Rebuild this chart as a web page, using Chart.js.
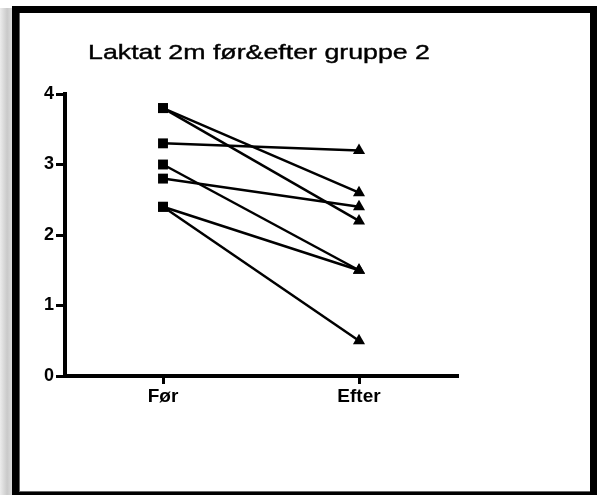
<!DOCTYPE html>
<html>
<head>
<meta charset="utf-8">
<script src="https://cdn.jsdelivr.net/npm/chart.js@4/dist/chart.umd.min.js"></script>
<style>
    html, body { margin: 0; padding: 0; background: #fff; }
    body { width: 597px; height: 495px; position: relative; overflow: hidden; }
    #shade { position: absolute; left: 0; top: 8px; width: 12px; height: 487px;
        background: linear-gradient(to right, #ececec, #c9c9c9 60%, #dcdcdc); }
    #frame { position: absolute; left: 12px; top: 6px; width: 585px; height: 489px; box-sizing: border-box;
        border: 7px solid #000; border-bottom-width: 3px; box-shadow: inset 1px -1px 0 #666; }
    #chart { position: absolute; left: 0; top: 0; }
</style>
</head>
<body>
<div id="shade"></div>
<div id="frame"></div>
<canvas id="chart" width="597" height="495"></canvas>
<script>
const TITLE = 'Laktat 2m før&efter gruppe 2';
const timepoints = ['Før', 'Efter'];
// one subject per pair: [før, efter]
const forValues = [3.8, 3.8, 3.3, 3.0, 2.8, 2.4, 2.4];
const efterValues = [2.6, 2.2, 3.2, 1.5, 2.4, 1.5, 0.5];
const yTicks = [0, 1, 2, 3, 4];

const FONT = '"Liberation Sans", Arial, sans-serif';

// title in the reference is drawn wider than normal Arial, so stretch it
const stretchedTitle = {
    id: 'stretchedTitle',
    afterDraw(chart) {
        const ctx = chart.ctx;
        ctx.save();
        ctx.font = '21px ' + FONT;
        ctx.fillStyle = '#000';
        ctx.strokeStyle = '#000';
        ctx.lineWidth = 0.4;
        ctx.textBaseline = 'alphabetic';
        const w = ctx.measureText(TITLE).width;
        const sx = 342 / w;
        ctx.translate(88, 59);
        ctx.scale(sx, 1);
        ctx.fillText(TITLE, 0, 0);
        ctx.strokeText(TITLE, 0, 0);
        ctx.restore();
    }
};

const datasets = forValues.map((v, i) => ({
    label: 'Subject ' + (i + 1),
    data: [v, efterValues[i]],
    borderColor: '#000',
    backgroundColor: '#000',
    borderWidth: 2.5,
    pointStyle: ['rect', 'triangle'],
    pointRadius: 7,
    pointBorderWidth: 0,
    tension: 0,
    clip: false
}));

new Chart(document.getElementById('chart').getContext('2d'), {
    type: 'line',
    data: { labels: timepoints, datasets },
    options: {
        responsive: false,
        animation: false,
        layout: { padding: { left: 0, top: 94, right: 140, bottom: 79 } },
        plugins: { legend: { display: false }, tooltip: { enabled: false }, title: { display: false } },
        scales: {
            x: {
                type: 'category',
                offset: true,
                afterFit: s => { s.height = 40; },
                border: { display: true, color: '#000', width: 4 },
                grid: { drawOnChartArea: false, drawTicks: true, tickLength: 8, color: '#000', lineWidth: 3, offset: false },
                ticks: { color: '#000', padding: 1, font: { family: FONT, size: 19, weight: 'bold' } }
            },
            y: {
                min: 0,
                max: 4,
                afterFit: s => { s.width = 65; },
                afterBuildTicks: s => { s.ticks = yTicks.map(v => ({ value: v })); },
                border: { display: true, color: '#000', width: 4 },
                grid: { drawOnChartArea: false, drawTicks: true, tickLength: 9, color: '#000', lineWidth: 3 },
                ticks: { color: '#000', padding: 2, font: { family: FONT, size: 18, weight: 'bold' } }
            }
        }
    },
    plugins: [stretchedTitle]
});
</script>
</body>
</html>
